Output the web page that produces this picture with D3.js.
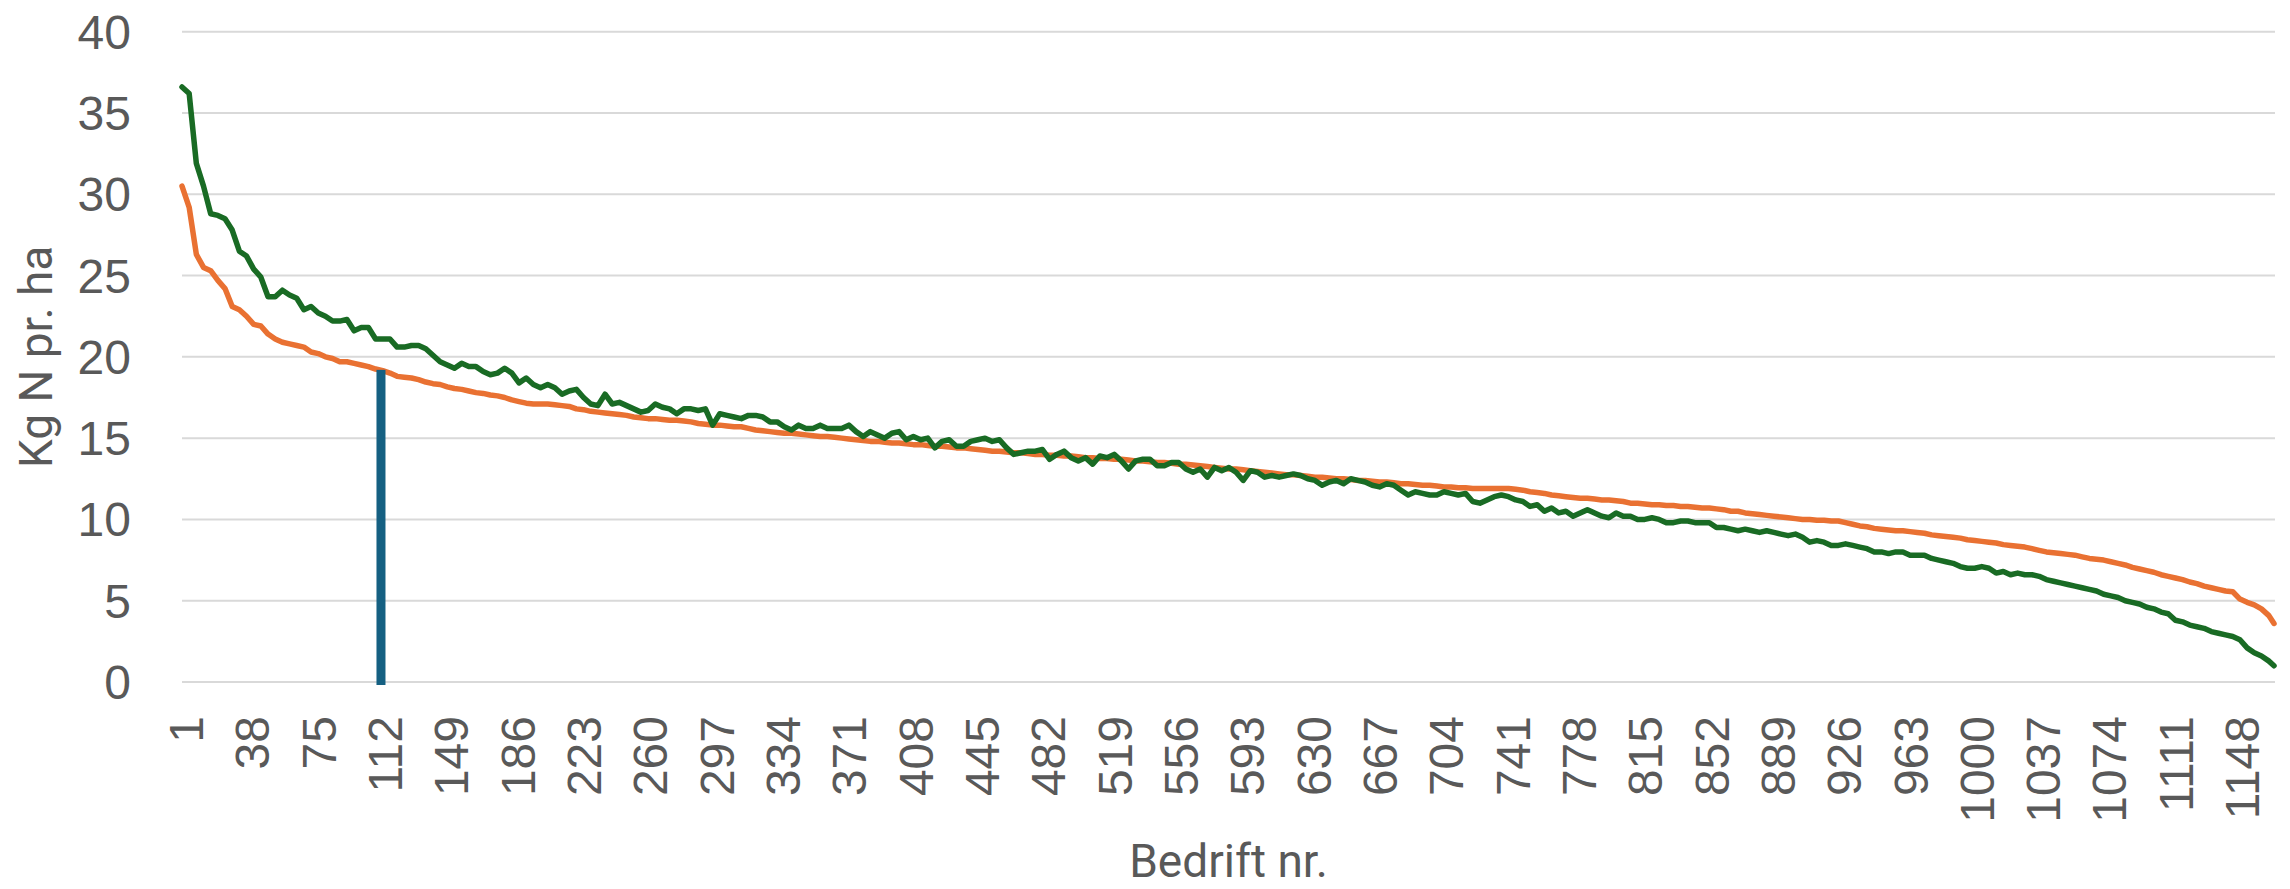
<!DOCTYPE html>
<html>
<head>
<meta charset="utf-8">
<script src="https://cdn.jsdelivr.net/npm/d3@7/dist/d3.min.js"></script>
<style>
  html, body { margin: 0; padding: 0; background: #ffffff; }
  svg { display: block; }
</style>
</head>
<body>
<svg id="chart" width="2290" height="889"></svg>
<script>
// ---------- DATA ----------
const nFarms = 1168;                                   // Bedrift nr. 1 .. 1168
const sampleCats = d3.range(1, 1166, 4).concat([1168]); // categories where values were read

const greenValues = [
  36.6, 36.2, 31.9, 30.5, 28.8, 28.7, 28.5, 27.8, 26.5, 26.2,
  25.4, 24.9, 23.7, 23.7, 24.1, 23.8, 23.6, 22.9, 23.1, 22.7,
  22.5, 22.2, 22.2, 22.3, 21.6, 21.8, 21.8, 21.1, 21.1, 21.1,
  20.6, 20.6, 20.7, 20.7, 20.5, 20.1, 19.7, 19.5, 19.3, 19.6,
  19.4, 19.4, 19.1, 18.9, 19.0, 19.3, 19.0, 18.4, 18.7, 18.3,
  18.1, 18.3, 18.1, 17.7, 17.9, 18.0, 17.5, 17.1, 17.0, 17.7,
  17.1, 17.2, 17.0, 16.8, 16.6, 16.7, 17.1, 16.9, 16.8, 16.5,
  16.8, 16.8, 16.7, 16.8, 15.8, 16.5, 16.4, 16.3, 16.2, 16.4,
  16.4, 16.3, 16.0, 16.0, 15.7, 15.5, 15.8, 15.6, 15.6, 15.8,
  15.6, 15.6, 15.6, 15.8, 15.4, 15.1, 15.4, 15.2, 15.0, 15.3,
  15.4, 14.9, 15.1, 14.9, 15.0, 14.4, 14.8, 14.9, 14.5, 14.5,
  14.8, 14.9, 15.0, 14.8, 14.9, 14.4, 14.0, 14.1, 14.2, 14.2,
  14.3, 13.7, 14.0, 14.2, 13.8, 13.6, 13.8, 13.4, 13.9, 13.8,
  14.0, 13.6, 13.1, 13.6, 13.7, 13.7, 13.3, 13.3, 13.5, 13.5,
  13.1, 12.9, 13.1, 12.6, 13.2, 13.0, 13.2, 12.9, 12.4, 13.0,
  12.9, 12.6, 12.7, 12.6, 12.7, 12.8, 12.7, 12.5, 12.4, 12.1,
  12.3, 12.4, 12.2, 12.5, 12.4, 12.3, 12.1, 12.0, 12.2, 12.1,
  11.8, 11.5, 11.7, 11.6, 11.5, 11.5, 11.7, 11.6, 11.5, 11.6,
  11.1, 11.0, 11.2, 11.4, 11.5, 11.4, 11.2, 11.1, 10.8, 10.9,
  10.5, 10.7, 10.4, 10.5, 10.2, 10.4, 10.6, 10.4, 10.2, 10.1,
  10.4, 10.2, 10.2, 10.0, 10.0, 10.1, 10.0, 9.8, 9.8, 9.9,
  9.9, 9.8, 9.8, 9.8, 9.5, 9.5, 9.4, 9.3, 9.4, 9.3,
  9.2, 9.3, 9.2, 9.1, 9.0, 9.1, 8.9, 8.6, 8.7, 8.6,
  8.4, 8.4, 8.5, 8.4, 8.3, 8.2, 8.0, 8.0, 7.9, 8.0,
  8.0, 7.8, 7.8, 7.8, 7.6, 7.5, 7.4, 7.3, 7.1, 7.0,
  7.0, 7.1, 7.0, 6.7, 6.8, 6.6, 6.7, 6.6, 6.6, 6.5,
  6.3, 6.2, 6.1, 6.0, 5.9, 5.8, 5.7, 5.6, 5.4, 5.3,
  5.2, 5.0, 4.9, 4.8, 4.6, 4.5, 4.3, 4.2, 3.8, 3.7,
  3.5, 3.4, 3.3, 3.1, 3.0, 2.9, 2.8, 2.6, 2.1, 1.8,
  1.6, 1.3, 1.0
];

const orangeValues = [
  30.5, 29.2, 26.3, 25.5, 25.3, 24.7, 24.2, 23.1, 22.9, 22.5,
  22.0, 21.9, 21.4, 21.1, 20.9, 20.8, 20.7, 20.6, 20.3, 20.2,
  20.0, 19.9, 19.7, 19.7, 19.6, 19.5, 19.4, 19.25, 19.15, 19.0,
  18.8, 18.75, 18.7, 18.6, 18.45, 18.35, 18.3, 18.15, 18.05, 18.0,
  17.9, 17.8, 17.75, 17.65, 17.6, 17.5, 17.35, 17.25, 17.15, 17.1,
  17.1, 17.1, 17.05, 17.0, 16.95, 16.8, 16.75, 16.65, 16.6, 16.55,
  16.5, 16.45, 16.4, 16.3, 16.25, 16.2, 16.2, 16.15, 16.1, 16.1,
  16.05, 16.0, 15.9, 15.85, 15.8, 15.8, 15.75, 15.7, 15.7, 15.6,
  15.5, 15.45, 15.4, 15.35, 15.3, 15.3, 15.25, 15.2, 15.15, 15.1,
  15.1, 15.05, 15.0, 14.95, 14.9, 14.85, 14.8, 14.8, 14.75, 14.7,
  14.7, 14.65, 14.6, 14.6, 14.55, 14.5, 14.5, 14.45, 14.4, 14.4,
  14.35, 14.3, 14.25, 14.2, 14.2, 14.15, 14.1, 14.1, 14.05, 14.0,
  14.0, 13.95, 13.95, 13.9, 13.9, 13.85, 13.8, 13.8, 13.75, 13.75,
  13.7, 13.7, 13.65, 13.6, 13.6, 13.55, 13.5, 13.5, 13.45, 13.4,
  13.4, 13.35, 13.3, 13.25, 13.2, 13.15, 13.1, 13.1, 13.05, 13.0,
  12.95, 12.9, 12.85, 12.8, 12.75, 12.75, 12.7, 12.65, 12.6, 12.6,
  12.55, 12.5, 12.5, 12.45, 12.4, 12.4, 12.35, 12.3, 12.3, 12.25,
  12.2, 12.2, 12.15, 12.1, 12.1, 12.05, 12.0, 12.0, 11.95, 11.95,
  11.9, 11.9, 11.9, 11.9, 11.9, 11.9, 11.85, 11.8, 11.7, 11.65,
  11.6, 11.5, 11.45, 11.4, 11.35, 11.3, 11.3, 11.25, 11.2, 11.2,
  11.15, 11.1, 11.0, 11.0, 10.95, 10.9, 10.9, 10.85, 10.85, 10.8,
  10.8, 10.75, 10.7, 10.7, 10.65, 10.6, 10.5, 10.5, 10.4, 10.35,
  10.3, 10.25, 10.2, 10.15, 10.1, 10.05, 10.0, 10.0, 9.95, 9.95,
  9.9, 9.9, 9.8, 9.7, 9.6, 9.55, 9.45, 9.4, 9.35, 9.3,
  9.3, 9.25, 9.2, 9.15, 9.05, 9.0, 8.95, 8.9, 8.85, 8.75,
  8.7, 8.65, 8.6, 8.55, 8.45, 8.4, 8.35, 8.3, 8.2, 8.1,
  8.0, 7.95, 7.9, 7.85, 7.8, 7.7, 7.6, 7.55, 7.5, 7.4,
  7.3, 7.2, 7.05, 6.95, 6.85, 6.75, 6.6, 6.5, 6.4, 6.3,
  6.15, 6.05, 5.9, 5.8, 5.7, 5.6, 5.55, 5.1, 4.9, 4.75,
  4.5, 4.1, 3.6
];

const barCats = [112];
const barValues = [19.2];

const xTickLabels = d3.range(1, nFarms + 1, 37);   // 1, 38, 75, ... 1148
const yTickValues = [0, 5, 10, 15, 20, 25, 30, 35, 40];
const yTitle = "Kg N pr. ha";
const xTitle = "Bedrift nr.";

// ---------- CHART ----------
const svg = d3.select("#chart");
const plot = { left: 182, right: 2275, top: 31.7, bottom: 682 };
const textColor = "#595959";
const tickFont = "'Liberation Sans', Arial, sans-serif";
const titleFont = "Roboto, 'Liberation Sans', sans-serif";

const x = d3.scaleLinear().domain([1, nFarms]).range([plot.left, plot.right - 1]);
const y = d3.scaleLinear().domain([0, 40]).range([plot.bottom, plot.top]);

// gridlines
svg.append("g").selectAll("line").data(yTickValues).join("line")
  .attr("x1", plot.left).attr("x2", plot.right)
  .attr("y1", d => y(d)).attr("y2", d => y(d))
  .attr("stroke", "#d9d9d9").attr("stroke-width", 2);

// y axis
const yAxis = svg.append("g")
  .attr("transform", `translate(${plot.left},0)`)
  .call(d3.axisLeft(y).tickValues(yTickValues).tickSize(0).tickPadding(51));
yAxis.select(".domain").remove();
yAxis.selectAll("text")
  .attr("fill", textColor)
  .style("font-family", tickFont)
  .style("font-size", "48px")
  .attr("dy", null)
  .attr("dominant-baseline", "central");

// x axis labels (rotated)
const xAxis = svg.append("g")
  .attr("transform", `translate(4,${plot.bottom})`)
  .call(d3.axisBottom(x).tickValues(xTickLabels).tickSize(0).tickFormat(d3.format("d")));
xAxis.select(".domain").remove();
xAxis.selectAll("text")
  .attr("fill", textColor)
  .style("font-family", tickFont)
  .style("font-size", "48px")
  .attr("y", 0).attr("dy", null)
  .attr("dominant-baseline", "central")
  .attr("text-anchor", "end")
  .attr("transform", "translate(0,34) rotate(-90)");

// lines
const makeLine = vals => d3.line()
  .x((d, i) => x(sampleCats[i]))
  .y(d => y(d))
  (vals);

svg.append("path")
  .attr("d", makeLine(orangeValues))
  .attr("fill", "none").attr("stroke", "#E97132")
  .attr("stroke-width", 5.5).attr("stroke-linejoin", "round").attr("stroke-linecap", "round");

svg.append("path")
  .attr("d", makeLine(greenValues))
  .attr("fill", "none").attr("stroke", "#196B24")
  .attr("stroke-width", 5.5).attr("stroke-linejoin", "round").attr("stroke-linecap", "round");

// bar
svg.append("g").selectAll("rect").data(barCats).join("rect")
  .attr("x", d => x(d) - 4.5)
  .attr("width", 9)
  .attr("y", (d, i) => y(barValues[i]))
  .attr("height", (d, i) => y(0) - y(barValues[i]) + 3)
  .attr("fill", "#156082");

// titles
svg.append("text")
  .attr("transform", `translate(52,${(plot.top + plot.bottom) / 2}) rotate(-90)`)
  .attr("text-anchor", "middle")
  .attr("fill", textColor)
  .style("font-family", titleFont)
  .style("font-size", "46px")
  .text(yTitle);

svg.append("text")
  .attr("x", (plot.left + plot.right) / 2)
  .attr("y", 877)
  .attr("text-anchor", "middle")
  .attr("fill", textColor)
  .style("font-family", titleFont)
  .style("font-size", "46px")
  .text(xTitle);
</script>
</body>
</html>
